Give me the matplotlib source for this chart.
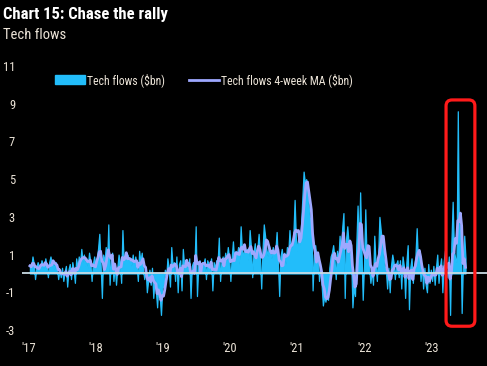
import numpy as np
import pandas as pd
import matplotlib
matplotlib.use('Agg')
import matplotlib.pyplot as plt
import matplotlib.dates as mdates
from matplotlib import font_manager
from matplotlib.patches import FancyBboxPatch, Patch
from matplotlib.lines import Line2D

# weekly tech flows ($bn)
flows_2017 = [0.4, 0.3, 0.9, 0.5, -0.3, 0.3,
              0.6, 0.4, 0.2, 0.7, 0.5, 0.3,
              0.8, 0.4, -0.2, 0.6, 0.9, 0.5,
              0.7, 0.2, 0.6, 0.3, -0.3, 0.2,
              -0.2, 0.3, -0.4, 0.1, 0.4, -0.7,
              0.2, 0.5, -0.3, 0.6, 0.2, -0.5,
              0.8, 0.3, 0.9, 0.5, 1.3, 0.6,
              1.0, 0.4, 0.8, 0.3, 1.1, 0.6,
              -0.4, 0.5, 0.9, 0.4]
flows_2018 = [0.8, 1.3, 2.1, 0.5, -1.3, 1.0,
              0.6, 1.4, 0.4, 2.6, -0.6, 0.8,
              1.1, -0.4, 0.5, -0.6, 0.3, 1.0,
              0.6, -0.5, 2.3, 0.5, 0.9, 0.7,
              1.0, 0.6, 0.8, 0.4, 1.0, 0.3,
              0.9, 0.5, -0.4, 1.2, 0.6, 1.1,
              0.2, -0.3, 0.3, -1.0, -0.4, 0.2,
              -0.6, 0.3, -1.3, -0.3, -0.9, -1.8,
              -0.5, -1.2, -2.2, -0.8]
flows_2019 = [-0.6, 0.2, -0.3, 0.8, 0.3, -0.7,
              1.4, 0.4, 0.6, -0.4, 0.9, -1.0,
              0.5, 0.7, -0.9, 1.3, 0.4, 0.6,
              0.5, 0.2, 0.8, -1.3, 0.4, 0.6,
              0.3, 2.5, -1.2, 0.4, 0.7, 0.3,
              0.6, 0.5, 0.8, -0.3, 0.7, 0.5,
              0.4, 0.8, -0.9, 0.6, 0.3, 0.7,
              0.5, 1.9, -0.4, 0.6, 0.9, 0.5,
              1.1, 0.7, 1.4, 0.8]
flows_2020 = [-0.4, 0.8, 1.7, 0.6, 1.2, 0.9,
              1.4, 0.5, 2.5, 1.2, 0.9, 1.5,
              1.0, 1.3, 0.7, 2.3, 1.4, -0.2,
              1.1, 1.6, 0.8, 1.3, 2.1, 0.9,
              -0.8, 1.2, 2.6, 2.0, 1.3, 0.9,
              1.5, 1.1, 0.8, 1.4, 1.0, 1.2,
              2.2, 0.6, -1.2, 0.9, 1.3, 0.7,
              1.1, 0.5, 1.4, 1.0, 2.3, 1.2,
              1.5, 2.0, 3.9, 1.8]
flows_2021 = [1.2, 2.2, 1.5, 2.6, 4.0, 5.4,
              4.8, 5.0, 4.2, 3.5, 2.8, 3.0,
              -0.9, 1.0, 1.5, 0.8, 1.1, -0.4,
              0.3, -0.6, -1.7, -1.2, -1.5, -1.0,
              -1.4, 0.3, 0.9, 1.1, 1.5, 0.8,
              -0.3, 1.2, 0.7, 2.0, 1.0, 2.4,
              3.2, -1.3, 1.8, 2.5, 1.6, 1.0,
              0.8, -1.8, -0.7, -1.2, 1.5, 3.6,
              1.2, 4.3, 1.3, -1.4]
flows_2022 = [0.5, 3.4, 0.8, 1.2, 0.3, -0.5,
              0.2, -0.6, 2.0, 0.5, -0.4, 1.0,
              3.0, 2.3, 1.6, 1.0, 0.4, 0.2,
              -0.8, 0.3, -1.0, 0.4, 1.0, 0.6,
              -0.3, 0.5, 0.7, -0.2, 0.7, -0.8,
              0.9, 0.4, -1.3, 0.6, 1.5, -1.9,
              0.3, 0.8, -0.5, 0.4, 0.9, 2.4,
              0.6, 1.0, -0.4, 0.5, -0.8, 0.3,
              -0.6, -1.0, 0.5, -0.5]
flows_2023 = [0.2, -0.4, 0.4, -0.6, 0.3, 1.0,
              -0.5, 0.3, 0.8, -1.0, 0.6, 1.2,
              0.3, -0.2, 0.9, -2.2, 1.6, 3.8,
              1.2, 0.8, 0.6, 8.6, 1.0, 2.6,
              -2.1, 0.6, 2.0, 0.8]

flows = flows_2017 + flows_2018 + flows_2019 + flows_2020 + flows_2021 + flows_2022 + flows_2023
dates = pd.date_range('2017-01-06', periods=len(flows), freq='W-FRI')
df = pd.DataFrame({'flows': flows}, index=dates)
df['ma4'] = df['flows'].rolling(4, min_periods=1).mean()

year_ticks = ['2017', '2018', '2019', '2020', '2021', '2022', '2023']
y_ticks = [-3, -1, 1, 3, 5, 7, 9, 11]

BG = 'black'
TXT = '#ece4d8'
CYAN = '#22bdfa'
LAV = '#9ea8ff'

# pick a narrow-ish family that is actually installed
installed = {f.name for f in font_manager.fontManager.ttflist}
for fam in ['Liberation Sans Narrow', 'Roboto Condensed', 'Open Sans Condensed', 'Lato', 'Liberation Sans']:
    if fam in installed:
        break
plt.rcParams['font.family'] = [fam, 'DejaVu Sans']

fig = plt.figure(figsize=(4.87, 3.66), dpi=100, facecolor=BG)
W, H = 487, 366
ax = fig.add_axes([22 / W, 1 - 330 / H, (W - 22) / W, 264 / H], facecolor=BG)

ax.fill_between(df.index, 0, df['flows'], color=CYAN, linewidth=0.9, edgecolor=CYAN, zorder=2)
ax.plot(df.index, df['ma4'], color=LAV, lw=2.0, zorder=3)
ax.axhline(0, color='#c9dbe4', lw=1.3, zorder=4)

x0 = mdates.date2num(pd.Timestamp('2017-01-01')) - 7 * 365 / 67
x1 = x0 + (W - 22) * 365 / 67
ax.set_xlim(x0, x1)
ax.set_ylim(-3, 11)
ax.set_yticks(y_ticks)
ax.set_yticklabels([str(v) for v in y_ticks])
ax.set_xticks([pd.Timestamp(y + '-01-01') for y in year_ticks])
ax.set_xticklabels(["'" + y[2:] for y in year_ticks])
ax.tick_params(axis='both', length=0, colors=TXT, labelsize=9)
ax.tick_params(axis='x', pad=9)
ax.tick_params(axis='y', pad=5)
for s in ax.spines.values():
    s.set_visible(False)

handles = [Patch(color=CYAN), Line2D([], [], color=LAV, lw=2.0)]
leg = ax.legend(handles, ['Tech flows ($bn)', 'Tech flows 4-week MA ($bn)'],
                ncol=2, frameon=False, loc='upper left', bbox_to_anchor=(0.055, 1.0),
                fontsize=8.5, handlelength=2.6, handleheight=0.8, handletextpad=0.15,
                columnspacing=2.0, borderaxespad=0.2)
for t in leg.get_texts():
    t.set_color(TXT)

# red highlight box around the 2023 spike
fig.canvas.draw()
bx0, by0 = ax.transData.transform((mdates.date2num(pd.Timestamp('2023-03-23')), -2.8))
bx1, by1 = ax.transData.transform((mdates.date2num(pd.Timestamp('2023-08-27')), 9.2))
box = FancyBboxPatch((bx0, by0), bx1 - bx0, by1 - by0,
                     boxstyle='round,pad=0,rounding_size=6',
                     fill=False, edgecolor='#ff1a1a', lw=2.3,
                     transform=None, zorder=10, clip_on=False)
fig.patches.append(box)

fig.text(3 / W, 1 - 14 / H, 'Chart 15: Chase the rally', color='white',
         fontsize=12, fontweight='bold', va='center', ha='left')
fig.text(3 / W, 1 - 35 / H, 'Tech flows', color=TXT,
         fontsize=10.5, va='center', ha='left')

fig.savefig('out.png', dpi=100, facecolor=BG)
